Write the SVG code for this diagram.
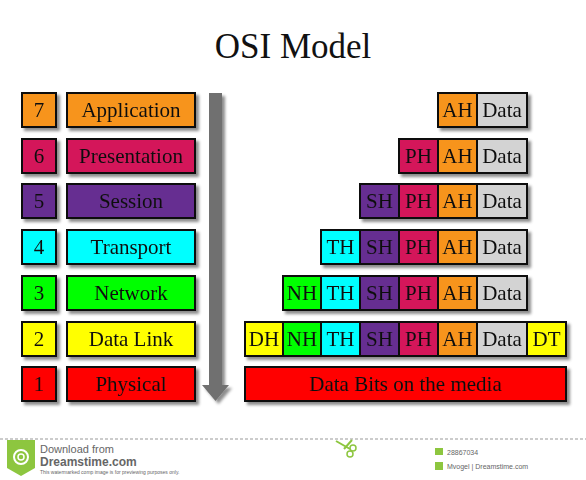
<svg xmlns="http://www.w3.org/2000/svg" width="586" height="480" viewBox="0 0 586 480">
<defs>
<filter id="sh" x="-20%" y="-20%" width="140%" height="160%">
<feDropShadow dx="3" dy="3" stdDeviation="1.8" flood-color="#000" flood-opacity="0.45"/>
</filter>
</defs>
<style>
.b{stroke:#111;stroke-width:2}
.t{font-family:"Liberation Serif","Times New Roman",serif;font-size:21px;fill:#111;text-anchor:middle}
.o{fill:#F7941D}.p{fill:#D4145A}.v{fill:#662D91}.c{fill:#00FFFF}.g{fill:#00FF00}.y{fill:#FFFF00}.r{fill:#FF0000}.d{fill:#D3D3D3}
.f{font-family:"Liberation Sans",Arial,sans-serif;fill:#666}
</style>
<rect width="586" height="480" fill="#fff"/>
<text x="293" y="58" style="font-family:'Liberation Serif','Times New Roman',serif;font-size:35px;fill:#111;text-anchor:middle">OSI Model</text>

<g id="connectors">
<path d="M209,93 H222 V385 H229 L215.5,401 L202,385 H209 Z" fill="#707070" filter="url(#sh)"/>
</g>

<g id="layer7" filter="url(#sh)">
<rect class="b o" x="22" y="93" width="34" height="34"/><text class="t" x="39" y="117">7</text>
<rect class="b o" x="67" y="93" width="128" height="34"/><text class="t" x="131" y="117">Application</text>
</g>
<g id="layer6" filter="url(#sh)">
<rect class="b p" x="22" y="139" width="34" height="34"/><text class="t" x="39" y="163">6</text>
<rect class="b p" x="67" y="139" width="128" height="34"/><text class="t" x="131" y="163">Presentation</text>
</g>
<g id="layer5" filter="url(#sh)">
<rect class="b v" x="22" y="184" width="34" height="34"/><text class="t" x="39" y="208">5</text>
<rect class="b v" x="67" y="184" width="128" height="34"/><text class="t" x="131" y="208">Session</text>
</g>
<g id="layer4" filter="url(#sh)">
<rect class="b c" x="22" y="230" width="34" height="34"/><text class="t" x="39" y="254">4</text>
<rect class="b c" x="67" y="230" width="128" height="34"/><text class="t" x="131" y="254">Transport</text>
</g>
<g id="layer3" filter="url(#sh)">
<rect class="b g" x="22" y="276" width="34" height="34"/><text class="t" x="39" y="300">3</text>
<rect class="b g" x="67" y="276" width="128" height="34"/><text class="t" x="131" y="300">Network</text>
</g>
<g id="layer2" filter="url(#sh)">
<rect class="b y" x="22" y="322" width="34" height="34"/><text class="t" x="39" y="346">2</text>
<rect class="b y" x="67" y="322" width="128" height="34"/><text class="t" x="131" y="346">Data Link</text>
</g>
<g id="layer1" filter="url(#sh)">
<rect class="b r" x="22" y="367" width="34" height="34"/><text class="t" x="39" y="391">1</text>
<rect class="b r" x="67" y="367" width="128" height="34"/><text class="t" x="131" y="391">Physical</text>
</g>

<g id="pdu7" filter="url(#sh)">
<rect class="b o" x="438" y="93" width="39" height="34"/><text class="t" x="457.5" y="117">AH</text>
<rect class="b d" x="477" y="93" width="50" height="34"/><text class="t" x="502" y="117">Data</text>
</g>
<g id="pdu6" filter="url(#sh)">
<rect class="b p" x="399" y="139" width="39" height="34"/><text class="t" x="418.5" y="163">PH</text>
<rect class="b o" x="438" y="139" width="39" height="34"/><text class="t" x="457.5" y="163">AH</text>
<rect class="b d" x="477" y="139" width="50" height="34"/><text class="t" x="502" y="163">Data</text>
</g>
<g id="pdu5" filter="url(#sh)">
<rect class="b v" x="360" y="184" width="39" height="34"/><text class="t" x="379.5" y="208">SH</text>
<rect class="b p" x="399" y="184" width="39" height="34"/><text class="t" x="418.5" y="208">PH</text>
<rect class="b o" x="438" y="184" width="39" height="34"/><text class="t" x="457.5" y="208">AH</text>
<rect class="b d" x="477" y="184" width="50" height="34"/><text class="t" x="502" y="208">Data</text>
</g>
<g id="pdu4" filter="url(#sh)">
<rect class="b c" x="321" y="230" width="39" height="34"/><text class="t" x="340.5" y="254">TH</text>
<rect class="b v" x="360" y="230" width="39" height="34"/><text class="t" x="379.5" y="254">SH</text>
<rect class="b p" x="399" y="230" width="39" height="34"/><text class="t" x="418.5" y="254">PH</text>
<rect class="b o" x="438" y="230" width="39" height="34"/><text class="t" x="457.5" y="254">AH</text>
<rect class="b d" x="477" y="230" width="50" height="34"/><text class="t" x="502" y="254">Data</text>
</g>
<g id="pdu3" filter="url(#sh)">
<rect class="b g" x="283" y="276" width="38" height="34"/><text class="t" x="302" y="300">NH</text>
<rect class="b c" x="321" y="276" width="39" height="34"/><text class="t" x="340.5" y="300">TH</text>
<rect class="b v" x="360" y="276" width="39" height="34"/><text class="t" x="379.5" y="300">SH</text>
<rect class="b p" x="399" y="276" width="39" height="34"/><text class="t" x="418.5" y="300">PH</text>
<rect class="b o" x="438" y="276" width="39" height="34"/><text class="t" x="457.5" y="300">AH</text>
<rect class="b d" x="477" y="276" width="50" height="34"/><text class="t" x="502" y="300">Data</text>
</g>
<g id="pdu2" filter="url(#sh)">
<rect class="b y" x="245" y="322" width="38" height="34"/><text class="t" x="264" y="346">DH</text>
<rect class="b g" x="283" y="322" width="38" height="34"/><text class="t" x="302" y="346">NH</text>
<rect class="b c" x="321" y="322" width="39" height="34"/><text class="t" x="340.5" y="346">TH</text>
<rect class="b v" x="360" y="322" width="39" height="34"/><text class="t" x="379.5" y="346">SH</text>
<rect class="b p" x="399" y="322" width="39" height="34"/><text class="t" x="418.5" y="346">PH</text>
<rect class="b o" x="438" y="322" width="39" height="34"/><text class="t" x="457.5" y="346">AH</text>
<rect class="b d" x="477" y="322" width="50" height="34"/><text class="t" x="502" y="346">Data</text>
<rect class="b y" x="527" y="322" width="39" height="34"/><text class="t" x="546.5" y="346">DT</text>
</g>
<g id="pdu1" filter="url(#sh)">
<rect class="b r" x="245" y="367" width="321" height="34"/><text class="t" x="405.5" y="391">Data Bits on the media</text>
</g>

<g id="footer">
<line x1="0" y1="439" x2="586" y2="439" stroke="#999" stroke-width="1" stroke-dasharray="3,2"/>
<path d="M7,440 H35 V468 L21,476 L7,468 Z" fill="#8DC63F"/>
<circle cx="21" cy="457" r="7" fill="none" stroke="#fff" stroke-width="2"/>
<circle cx="21" cy="457" r="3" fill="none" stroke="#fff" stroke-width="1.5"/>
<text class="f" x="40" y="453" font-size="11">Download from</text>
<text class="f" x="40" y="466" font-size="12" font-weight="bold" fill="#555">Dreamstime.com</text>
<text class="f" x="40" y="474" font-size="5">This watermarked comp image is for previewing purposes only.</text>
<path d="M336,441 L350,449 M344,449 L352,440" stroke="#8DC63F" stroke-width="2" fill="none"/>
<circle cx="353" cy="448" r="3" fill="none" stroke="#8DC63F" stroke-width="1.5"/>
<circle cx="350" cy="454" r="3" fill="none" stroke="#8DC63F" stroke-width="1.5"/>
<rect x="435" y="448" width="8" height="7" fill="#8DC63F"/>
<text class="f" x="447" y="455" font-size="7">28867034</text>
<rect x="435" y="462" width="8" height="8" fill="#8DC63F"/>
<text class="f" x="447" y="469" font-size="7">Mvogel | Dreamstime.com</text>
</g>
</svg>
